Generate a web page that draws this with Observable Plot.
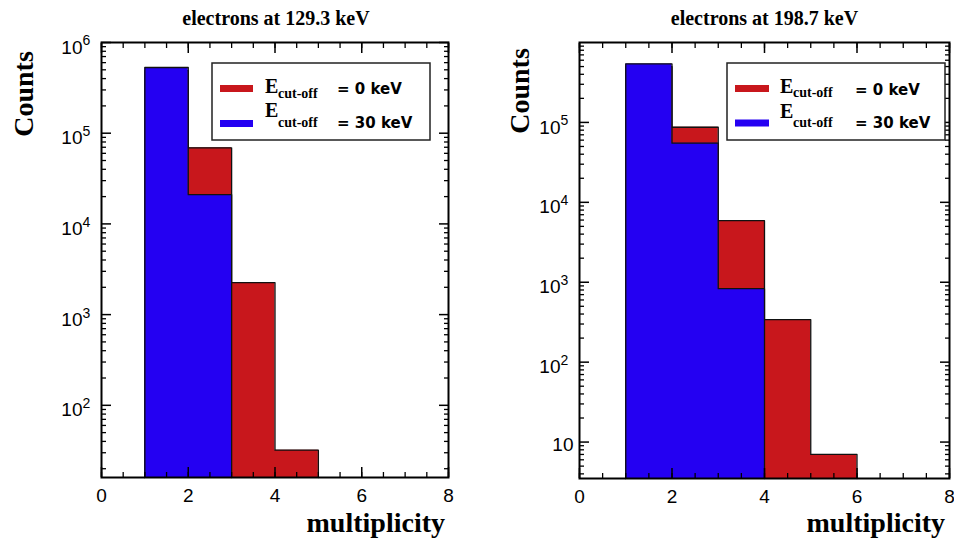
<!DOCTYPE html>
<html><head><meta charset="utf-8">
<script src="https://cdn.jsdelivr.net/npm/d3@7"></script>
<script src="https://cdn.jsdelivr.net/npm/@observablehq/plot@0.6"></script>
<style>
html,body{margin:0;padding:0;background:#fff;}
#wrap{position:relative;width:954px;height:543px;overflow:hidden;background:#fff;}
#wrap svg{position:absolute;top:0;}
</style></head><body><div id="wrap"></div>
<script>
// ---- data ----
const binEdges = [1, 2, 3, 4, 5, 6];
const panelTitles = ["electrons at 129.3 keV", "electrons at 198.7 keV"];
const seriesLabels = ["= 0 keV", "= 30 keV"];
const seriesColors = ["#c8171c", "#2400f2"];
const left0keV = [4.9e5, 6.9e4, 2250, 32];
const left30keV = [5.3e5, 2.1e4];
const right0keV = [5.0e5, 8.7e4, 5900, 340, 7];
const right30keV = [5.4e5, 5.5e4, 830];
const xTickLabels = [0, 2, 4, 6, 8];
const leftYTicks = [1e2, 1e3, 1e4, 1e5, 1e6];
const rightYTicks = [1e1, 1e2, 1e3, 1e4, 1e5];
const xAxisLabel = "multiplicity";
const yAxisLabel = "Counts";
const legendSymbol = "E";
const legendSub = "cut-off";

// ---- layout ----
const layouts = [
  {left: 0, marginLeft: 101, marginRight: 29, marginBottom: 66, yDomain: [16, 1e6], yTicks: leftYTicks,
   series: [left0keV, left30keV], titleX: 276, countsX: 33, countsY: 94, multX: 445,
   legend: {x: 212, y: 63, w: 218, h: 77, swX: 220, swW: 33, swY: [88.5, 123.5], eX: 265, eY: [93, 117], subX: 278, subY: [98, 127], valX: 337, valY: [94, 128]}},
  {left: 477, marginLeft: 102, marginRight: 5, marginBottom: 65, yDomain: [3.5, 1e6], yTicks: rightYTicks,
   series: [right0keV, right30keV], titleX: 764.5, countsX: 529, countsY: 91, multX: 945,
   legend: {x: 727, y: 63, w: 218, h: 77, swX: 735, swW: 34, swY: [88.5, 123], eX: 780, eY: [93, 118], subX: 793, subY: [97, 126.5], valX: 855, valY: [95, 128]}}
];

const expOf = v => Math.round(Math.log10(v));

const wrap = document.getElementById("wrap");

layouts.forEach((L, p) => {
  const ymin = L.yDomain[0];
  const minorY = [];
  for (let d = Math.floor(Math.log10(ymin)); d < 6; d++) {
    for (let k = 2; k <= 9; k++) {
      const v = k * Math.pow(10, d);
      if (v >= ymin && v <= L.yDomain[1]) minorY.push(v);
    }
  }
  const minorX = d3.range(0, 8.001, 0.5);
  const marks = [];
  L.series.forEach((vals, s) => {
    const pts = [{x: binEdges[0], y: ymin}];
    vals.forEach((v, i) => { pts.push({x: binEdges[i], y: v}); pts.push({x: binEdges[i + 1], y: v}); });
    pts.push({x: binEdges[vals.length], y: ymin});
    marks.push(Plot.areaY(pts, {x: "x", y1: () => ymin, y2: "y", fill: seriesColors[s]}));
    marks.push(Plot.line(pts, {x: "x", y: "y", stroke: "#111", strokeWidth: 1.3}));
  });
  marks.push(Plot.frame({stroke: "#000", strokeWidth: 2}));
  // inward ticks
  for (const anchor of ["left", "right"]) {
    marks.push(Plot.axisY({anchor, ticks: L.yTicks, tickSize: -10, fill: "none", stroke: "#000", strokeWidth: 1.5, label: null}));
    marks.push(Plot.axisY({anchor, ticks: minorY, tickSize: -5, fill: "none", stroke: "#000", strokeWidth: 1.3, label: null}));
  }
  for (const anchor of ["bottom", "top"]) {
    marks.push(Plot.axisX({anchor, ticks: xTickLabels, tickSize: -10, fill: "none", stroke: "#000", strokeWidth: 1.5, label: null}));
    marks.push(Plot.axisX({anchor, ticks: minorX, tickSize: -5, fill: "none", stroke: "#000", strokeWidth: 1.3, label: null}));
  }
  // y labels: "10" + raised exponent
  const powTicks = L.yTicks.filter(v => expOf(v) > 1);
  const plainTicks = L.yTicks.filter(v => expOf(v) === 1);
  marks.push(Plot.axisY({anchor: "left", ticks: powTicks, tickSize: 0, tickPadding: 19, tickFormat: () => "10", label: null, dy: 5, fontSize: 19}));
  marks.push(Plot.axisY({anchor: "left", ticks: powTicks, tickSize: 0, tickPadding: 19, textAnchor: "start", tickFormat: v => String(expOf(v)), label: null, dy: -1.5, fontSize: 14}));
  if (plainTicks.length) marks.push(Plot.axisY({anchor: "left", ticks: plainTicks, tickSize: 0, tickPadding: 6, tickFormat: () => "10", label: null, dy: 3, fontSize: 19}));
  marks.push(Plot.axisX({anchor: "bottom", ticks: xTickLabels, tickSize: 0, tickPadding: 11, tickFormat: d => String(d), label: null, fontSize: 19}));

  const svg = Plot.plot({
    width: 477, height: 543,
    marginLeft: L.marginLeft, marginRight: L.marginRight, marginTop: 42, marginBottom: L.marginBottom,
    x: {domain: [0, 8]},
    y: {type: "log", domain: L.yDomain},
    style: {fontFamily: "'Liberation Sans', Arial, sans-serif", color: "#000", background: "transparent", overflow: "visible"},
    marks
  });
  svg.style.left = L.left + "px";
  wrap.appendChild(svg);
});

// ---- text overlay: titles, axis labels, legends ----
const ov = d3.select(wrap).append("svg").attr("width", 954).attr("height", 543).style("left", "0px").style("pointer-events", "none");
const serif = "'Liberation Serif', 'Times New Roman', serif";
layouts.forEach((L, p) => {
  ov.append("text").attr("x", L.titleX).attr("y", 25).attr("text-anchor", "middle")
    .attr("font-family", serif).attr("font-weight", "bold").attr("font-size", 20).text(panelTitles[p]);
  ov.append("text").attr("transform", `translate(${L.countsX},${L.countsY}) rotate(-90)`).attr("text-anchor", "middle")
    .attr("font-family", serif).attr("font-weight", "bold").attr("font-size", 28).text(yAxisLabel);
  ov.append("text").attr("x", L.multX).attr("y", 532).attr("text-anchor", "end")
    .attr("font-family", serif).attr("font-weight", "bold").attr("font-size", 28).text(xAxisLabel);
  const g = L.legend;
  ov.append("rect").attr("x", g.x).attr("y", g.y).attr("width", g.w).attr("height", g.h)
    .attr("fill", "#fff").attr("stroke", "#222").attr("stroke-width", 1.5);
  seriesLabels.forEach((lab, s) => {
    ov.append("rect").attr("x", g.swX).attr("y", g.swY[s] - 3.5).attr("width", g.swW).attr("height", 7).attr("fill", seriesColors[s]);
    ov.append("text").attr("x", g.eX).attr("y", g.eY[s]).attr("font-family", serif).attr("font-weight", "bold").attr("font-size", 20).text(legendSymbol);
    ov.append("text").attr("x", g.subX).attr("y", g.subY[s]).attr("font-family", serif).attr("font-weight", "bold").attr("font-size", 14).text(legendSub);
    ov.append("text").attr("x", g.valX).attr("y", g.valY[s]).attr("font-family", "'DejaVu Sans', sans-serif").attr("font-weight", "bold").attr("font-size", 15).text(lab);
  });
});
</script></body></html>
